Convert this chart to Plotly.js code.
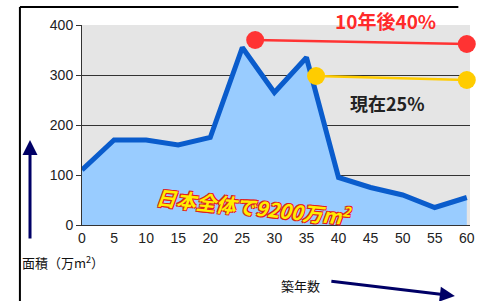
<!DOCTYPE html>
<html>
<head>
<meta charset="utf-8">
<script src="https://cdn.plot.ly/plotly-3.0.1.min.js"></script>
<style>html,body{margin:0;padding:0;background:#fff;}#chart{width:481px;height:301px;}</style>
</head>
<body>
<div id="chart"></div>
<script>
// Data (万m² by building age, years)
var ages = [0, 5, 10, 15, 20, 25, 30, 35, 40, 45, 50, 55, 60];
var areaValues = [110, 170, 170, 160, 175, 355, 265, 335, 95, 75, 60, 35, 55];
var xTickLabels = ['0','5','10','15','20','25','30','35','40','45','50','55','60'];
var yTickVals = [0, 100, 200, 300, 400];
var yTickLabels = ['0','100','200','300','400'];
// Reference lines
var futureX = [27, 60];
var futureY = [370, 362];
var currentX = [36.5, 60];
var currentY = [298, 290];
var futureLabel = '10年後40%';
var currentLabel = '現在25%';
var totalLabel = '日本全体で9200万m<sup>2</sup>';
var yTitle = '面積（万m<sup>2</sup>）';
var xTitle = '築年数';

var jp = '"Noto Sans CJK JP", "Noto Sans", sans-serif';
var lat = '"Liberation Sans", Arial, sans-serif';

var traces = [
  {
    x: ages, y: areaValues, type: 'scatter', mode: 'lines',
    fill: 'tozeroy', fillcolor: '#99ccff',
    line: {color: '#0a5ccc', width: 5},
    hoverinfo: 'skip', showlegend: false
  },
  {
    x: futureX, y: futureY, type: 'scatter', mode: 'lines+markers',
    line: {color: '#ff3333', width: 2.5},
    marker: {color: '#ff3333', size: 18},
    cliponaxis: false, showlegend: false, hoverinfo: 'skip'
  },
  {
    x: currentX, y: currentY, type: 'scatter', mode: 'lines+markers',
    line: {color: '#ffcc00', width: 2.5},
    marker: {color: '#ffcc00', size: 18},
    cliponaxis: false, showlegend: false, hoverinfo: 'skip'
  }
];

var layout = {
  width: 481, height: 301,
  margin: {l: 82, r: 11, t: 25, b: 76},
  paper_bgcolor: '#ffffff',
  plot_bgcolor: '#e5e5e5',
  showlegend: false,
  xaxis: {
    range: [0, 60.5],
    tickmode: 'array', tickvals: ages, ticktext: xTickLabels,
    showgrid: false, zeroline: false,
    showline: true, linecolor: '#333', linewidth: 1,
    ticks: '', ticklen: 0,
    tickfont: {family: lat, size: 14, color: '#222'}
  },
  yaxis: {
    range: [0, 400],
    tickmode: 'array', tickvals: yTickVals, ticktext: yTickLabels,
    showgrid: true, gridcolor: '#333', gridwidth: 1,
    zeroline: false,
    showline: true, linecolor: '#333', linewidth: 1,
    ticks: 'outside', ticklen: 5, tickcolor: '#333',
    tickfont: {family: lat, size: 14, color: '#222'}
  },
  shapes: [
    {type: 'line', xref: 'paper', yref: 'paper', x0: -0.16, x1: 0.97, y0: 1.09, y1: 1.09,
     line: {color: '#000', width: 2}},
    {type: 'line', xref: 'paper', yref: 'paper', x0: -0.16, x1: -0.16, y0: 1.09, y1: -0.40,
     line: {color: '#000', width: 2}}
  ],
  annotations: [
    {x: 0.781, y: 1.025, xref: 'paper', yref: 'paper', xanchor: 'center', yanchor: 'middle',
     text: futureLabel, showarrow: false,
     font: {family: jp, size: 19, color: '#ff2a2a', weight: 'bold'}},
    {x: 47.6, y: 244, xref: 'x', yref: 'y', text: currentLabel, showarrow: false,
     font: {family: jp, size: 18, color: '#222', weight: 'bold'}},
    {x: 26.8, y: 38, xref: 'x', yref: 'y', text: totalLabel, showarrow: false,
     textangle: 6,
     font: {family: jp, size: 20, color: '#ffee00', weight: 'bold', style: 'italic',
            shadow: '1px 1px 0 #e02020, -1px -1px 0 #e02020, 1px -1px 0 #e02020, -1px 1px 0 #e02020'}},
    {x: -0.16, y: -0.185, xref: 'paper', yref: 'paper', xanchor: 'left', yanchor: 'middle',
     text: yTitle, showarrow: false,
     font: {family: jp, size: 13, color: '#111'}},
    {x: -0.134, y: 0.425, xref: 'paper', yref: 'paper', text: '', showarrow: true,
     ax: 0, ay: 100, arrowhead: 2, arrowsize: 1, arrowwidth: 3, arrowcolor: '#000066'},
    {x: 0.562, y: -0.30, xref: 'paper', yref: 'paper', xanchor: 'center', yanchor: 'middle',
     text: xTitle, showarrow: false,
     font: {family: jp, size: 13, color: '#111'}},
    {x: 0.961, y: -0.355, xref: 'paper', yref: 'paper', text: '', showarrow: true,
     ax: -125, ay: -15, arrowhead: 2, arrowsize: 1, arrowwidth: 3, arrowcolor: '#000066'}
  ]
};

Plotly.newPlot('chart', traces, layout, {displayModeBar: false, staticPlot: true});
</script>
</body>
</html>
